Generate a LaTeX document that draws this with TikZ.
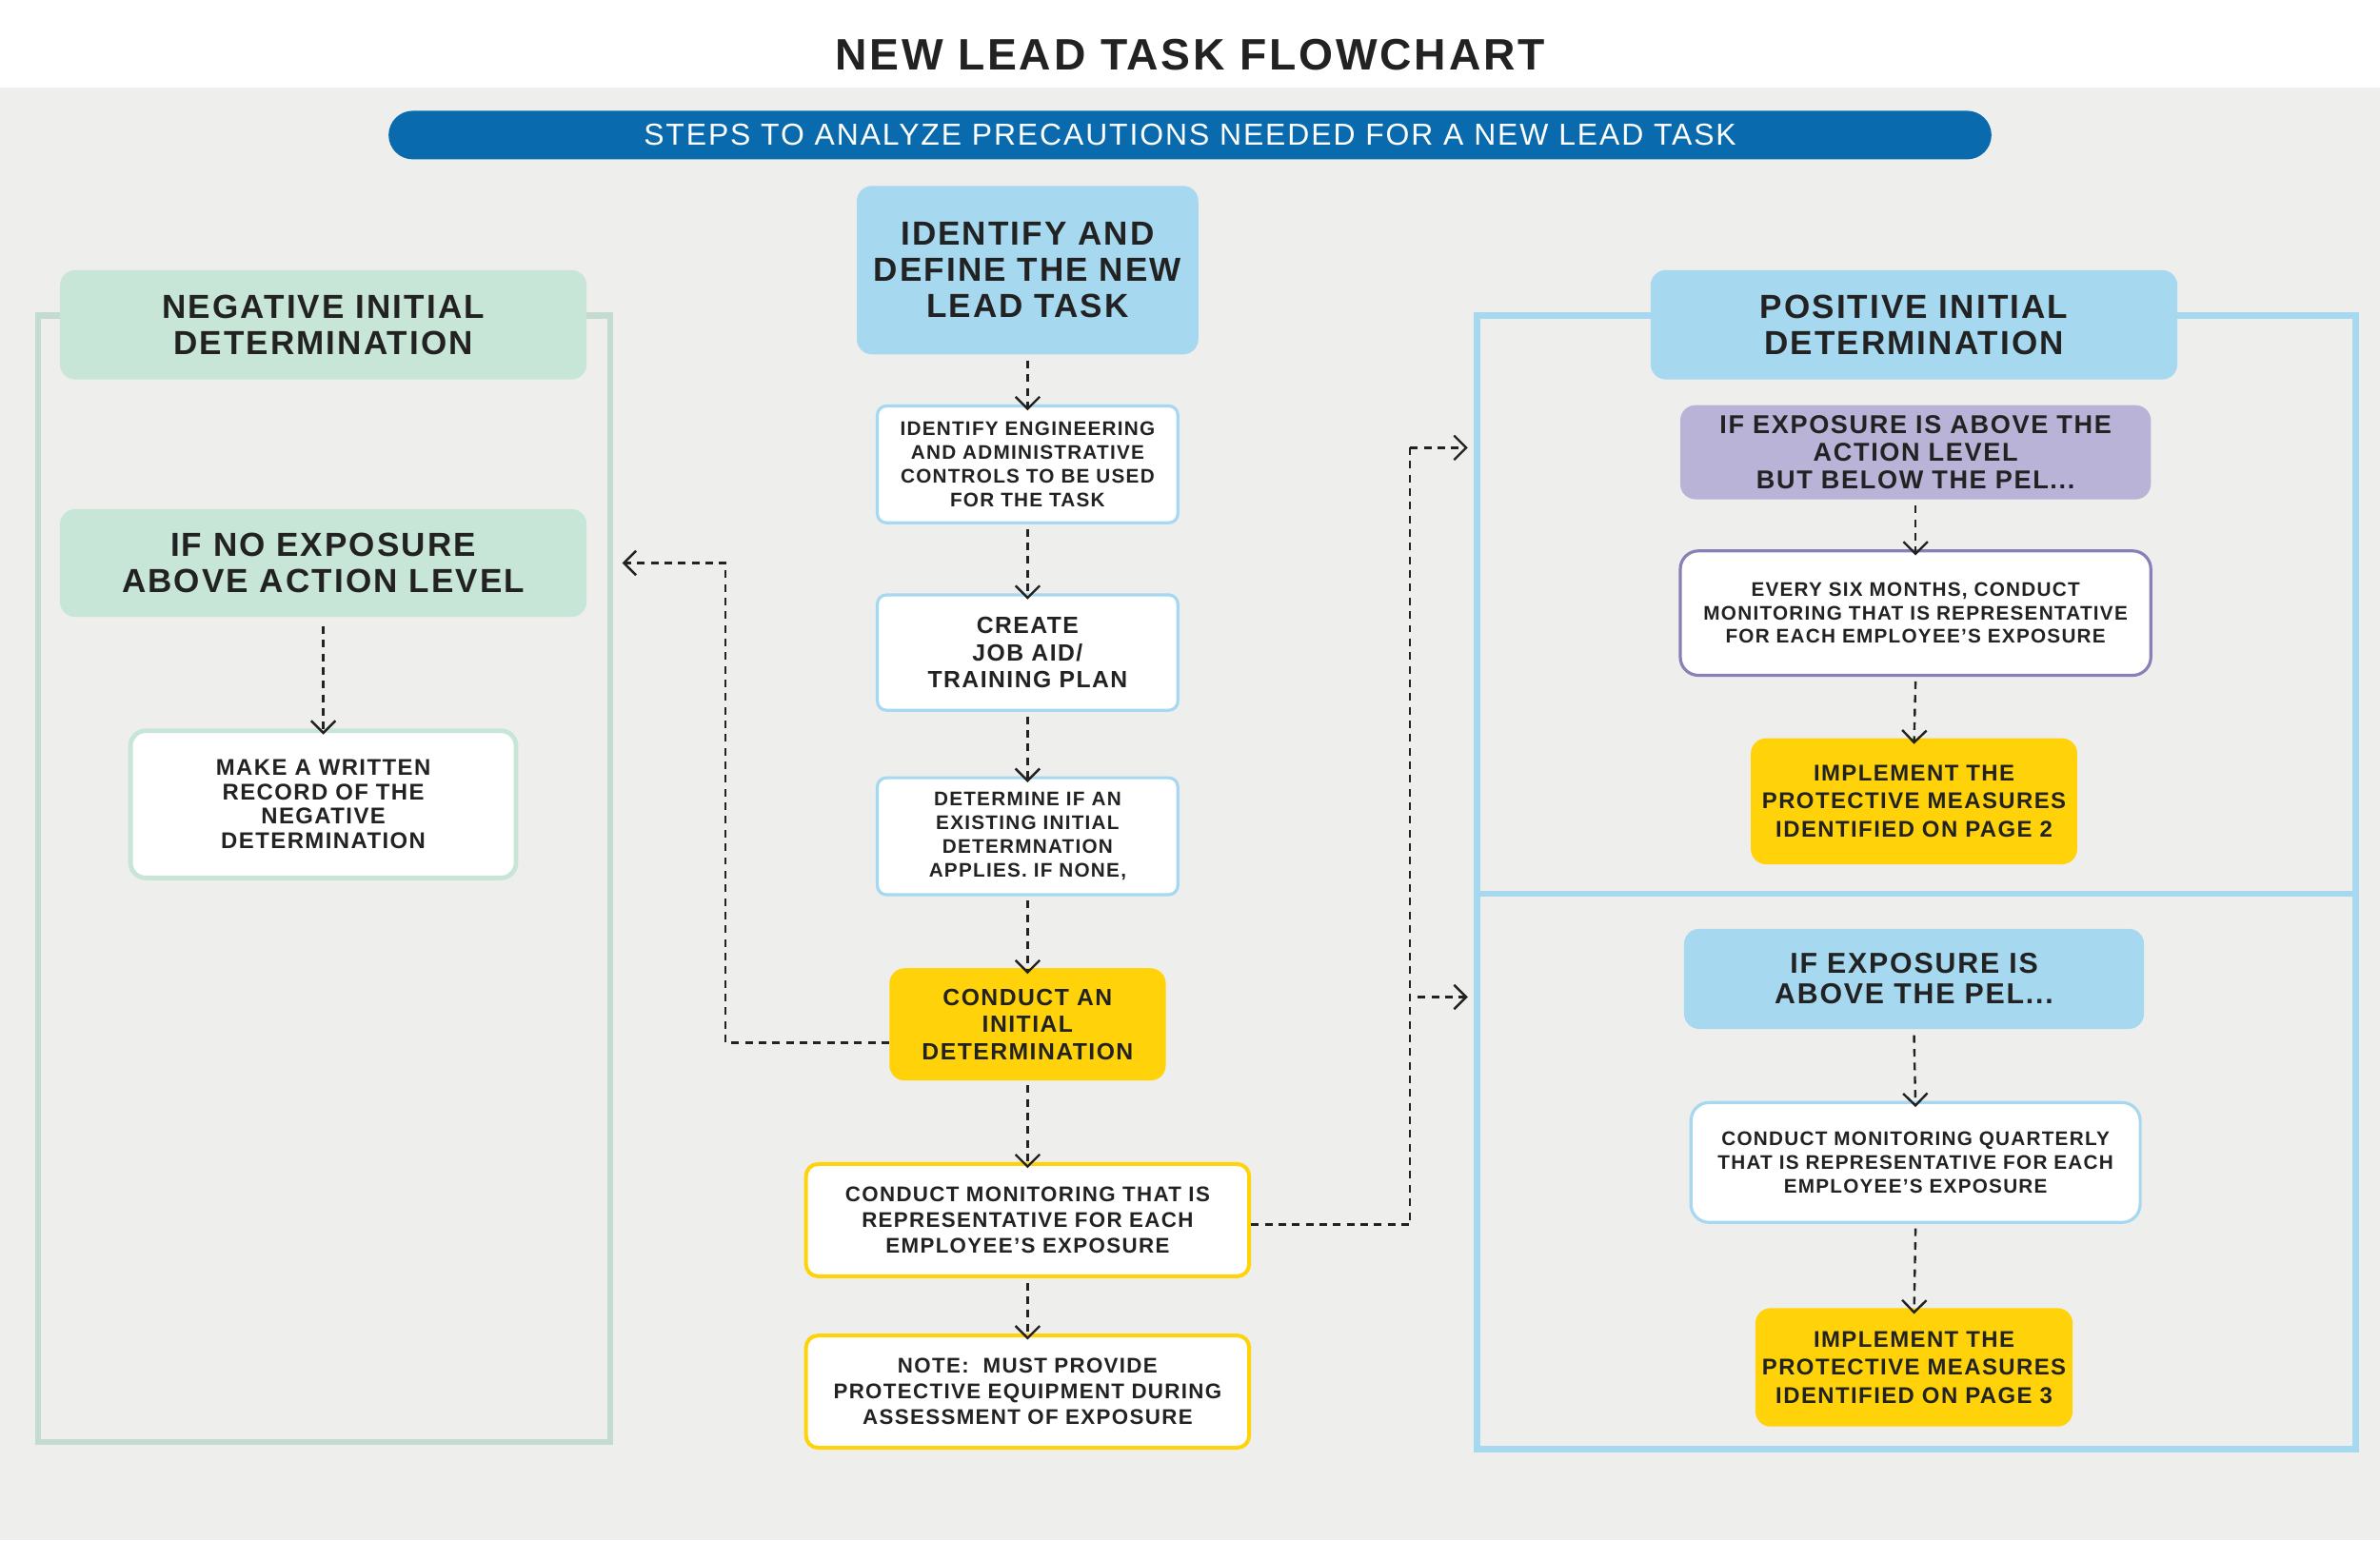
\documentclass[tikz,border=0pt]{standalone}
\usepackage{fontspec}
\setmainfont{Liberation Sans}[LetterSpace=6]
\usetikzlibrary{arrows.meta}
\definecolor{bg}{HTML}{EEEEEC}
\definecolor{dblue}{HTML}{0A6AAE}
\definecolor{lblue}{HTML}{A6D8F0}
\definecolor{lgreen}{HTML}{C8E6D8}
\definecolor{purp}{HTML}{B9B3D8}
\definecolor{purpb}{HTML}{8A80B8}
\definecolor{yel}{HTML}{FFD20A}
\definecolor{txt}{HTML}{222222}
\tikzset{
 bx/.style={rounded corners=10pt,align=center,text=txt,font=\bfseries\fontsize{13}{15.5}\selectfont,inner sep=2pt},
 big/.style={font=\bfseries\fontsize{22}{24}\selectfont},
 med/.style={font=\bfseries\fontsize{15.5}{18}\selectfont},
 da/.style={dashed,line width=1.5pt,dash pattern=on 5pt off 4pt,-{Straight Barb[length=8pt,width=16pt]},txt},
 dl/.style={dashed,line width=1.5pt,dash pattern=on 5pt off 4pt,txt}
}
\newcommand{\bxat}[6]{\node[bx,#1,minimum width=#4pt,minimum height=#5pt,text width=#4pt-10pt] (#6) at (#2pt,-#3pt)}
\begin{document}
\begin{tikzpicture}[x=1pt,y=-1pt]
\useasboundingbox (0,0) rectangle (1568,1015);
\fill[white] (0,0) rectangle (1568,58);
\fill[bg] (0,58) rectangle (1568,1015);
\node[font=\bfseries\fontsize{29}{30}\selectfont,text=txt] (title) at (784,36) {NEW LEAD TASK FLOWCHART};
\node[fill=dblue,rounded corners=16pt,minimum width=1056pt,minimum height=32pt,text=white,font=\fontsize{20}{22}\selectfont,inner sep=0pt] (banner) at (784,89) {STEPS TO ANALYZE PRECAUTIONS NEEDED FOR A NEW LEAD TASK};
% frames
\draw[lgreen!85!gray!90,line width=4pt] (25,208) rectangle (402,950);
\draw[lblue,line width=4pt] (973,208) rectangle (1552,955);
\draw[lblue,line width=4pt] (973,589) -- (1552,589);
% center column
\node[bx,big,fill=lblue,minimum width=225pt,minimum height=111pt,text width=215pt] (c1) at (677,178) {IDENTIFY AND\\DEFINE THE NEW\\LEAD TASK};
\node[bx,fill=white,draw=lblue,line width=2pt,rounded corners=6pt,minimum width=198pt,minimum height=77pt,text width=190pt] (c2) at (677,306) {IDENTIFY ENGINEERING\\AND ADMINISTRATIVE\\CONTROLS TO BE USED\\FOR THE TASK};
\node[bx,med,fill=white,draw=lblue,line width=2pt,rounded corners=6pt,minimum width=198pt,minimum height=76pt,text width=190pt] (c3) at (677,430) {CREATE\\JOB AID/\\TRAINING PLAN};
\node[bx,fill=white,draw=lblue,line width=2pt,rounded corners=6pt,minimum width=198pt,minimum height=77pt,text width=190pt] (c4) at (677,551) {DETERMINE IF AN\\EXISTING INITIAL\\DETERMNATION\\APPLIES. IF NONE,};
\node[bx,med,fill=yel,minimum width=182pt,minimum height=74pt,text width=175pt] (c5) at (677,675) {CONDUCT AN\\INITIAL\\DETERMINATION};
\node[bx,fill=white,draw=yel,line width=2.5pt,rounded corners=8pt,minimum width=292pt,minimum height=74pt,text width=280pt,font=\bfseries\fontsize{14}{17}\selectfont] (c6) at (677,804) {CONDUCT MONITORING THAT IS\\REPRESENTATIVE FOR EACH\\EMPLOYEE'S EXPOSURE};
\node[bx,fill=white,draw=yel,line width=2.5pt,rounded corners=8pt,minimum width=292pt,minimum height=74pt,text width=280pt,font=\bfseries\fontsize{14}{17}\selectfont] (c7) at (677,917) {NOTE:\ \ MUST PROVIDE\\PROTECTIVE EQUIPMENT DURING\\ASSESSMENT OF EXPOSURE};
% left
\node[bx,big,fill=lgreen,minimum width=347pt,minimum height=72pt,text width=340pt] (l1) at (213,214) {NEGATIVE INITIAL\\DETERMINATION};
\node[bx,big,fill=lgreen,minimum width=347pt,minimum height=71pt,text width=340pt] (l2) at (213,371) {IF NO EXPOSURE\\ABOVE ACTION LEVEL};
\node[bx,fill=white,draw=lgreen,line width=3pt,rounded corners=10pt,minimum width=254pt,minimum height=97pt,text width=240pt,font=\bfseries\fontsize{15}{16}\selectfont] (l3) at (213,530) {MAKE A WRITTEN\\RECORD OF THE\\NEGATIVE\\DETERMINATION};
% right
\node[bx,big,fill=lblue,minimum width=347pt,minimum height=72pt,text width=340pt] (r1) at (1261,214) {POSITIVE INITIAL\\DETERMINATION};
\node[bx,fill=purp,minimum width=310pt,minimum height=62pt,text width=300pt,font=\bfseries\fontsize{17}{18}\selectfont] (r2) at (1262,298) {IF EXPOSURE IS ABOVE THE\\ACTION LEVEL\\BUT BELOW THE PEL...};
\node[bx,fill=white,draw=purpb,line width=2pt,rounded corners=12pt,minimum width=310pt,minimum height=82pt,text width=300pt] (r3) at (1262,404) {EVERY SIX MONTHS, CONDUCT\\MONITORING THAT IS REPRESENTATIVE\\FOR EACH EMPLOYEE'S EXPOSURE};
\node[bx,fill=yel,minimum width=215pt,minimum height=83pt,text width=210pt,font=\bfseries\fontsize{15}{18.5}\selectfont] (r4) at (1261,528) {IMPLEMENT THE\\PROTECTIVE MEASURES\\IDENTIFIED ON PAGE 2};
\node[bx,big,fill=lblue,minimum width=303pt,minimum height=66pt,text width=295pt,font=\bfseries\fontsize{19}{20}\selectfont] (r5) at (1261,645) {IF EXPOSURE IS\\ABOVE THE PEL...};
\node[bx,fill=white,draw=lblue,line width=2pt,rounded corners=12pt,minimum width=296pt,minimum height=79pt,text width=286pt] (r6) at (1262,766) {CONDUCT MONITORING QUARTERLY\\THAT IS REPRESENTATIVE FOR EACH\\EMPLOYEE'S EXPOSURE};
\node[bx,fill=yel,minimum width=209pt,minimum height=78pt,text width=205pt,font=\bfseries\fontsize{15}{18.5}\selectfont] (r7) at (1261,901) {IMPLEMENT THE\\PROTECTIVE MEASURES\\IDENTIFIED ON PAGE 3};
% arrows
\draw[da] ([yshift=-4pt]c1.south) -- ([yshift=-4pt]c2.north);
\draw[da] ([yshift=-3pt]c2.south) -- ([yshift=-4pt]c3.north);
\draw[da] ([yshift=-3pt]c3.south) -- ([yshift=-4pt]c4.north);
\draw[da] ([yshift=-3pt]c4.south) -- ([yshift=-4pt]c5.north);
\draw[da] ([yshift=-3pt]c5.south) -- ([yshift=-4pt]c6.north);
\draw[da] ([yshift=-3pt]c6.south) -- ([yshift=-4pt]c7.north);
\draw[da] ([yshift=-6pt]l2.south) -- ([yshift=-4pt]l3.north);
\draw[da] ([yshift=-4pt]r2.south) -- ([yshift=-4pt]r3.north);
\draw[da] ([yshift=-3pt]r3.south) -- ([yshift=-4pt]r4.north);
\draw[da] ([yshift=-4pt]r5.south) -- ([yshift=-4pt]r6.north);
\draw[da] ([yshift=-3pt]r6.south) -- ([yshift=-4pt]r7.north);
\coordinate (la) at (410,371);
\draw[da] (c5.west |- 0,687) -- (478,687) -- (478,371) -- (la);
\coordinate (ra) at (967,295);
\coordinate (rb) at (967,657);
\draw[dl] (c6.east |- 0,807) -- (929,807) -- (929,295);
\draw[da] (929,295) -- (ra);
\draw[da] (934,657) -- (rb);
\end{tikzpicture}
\end{document}
